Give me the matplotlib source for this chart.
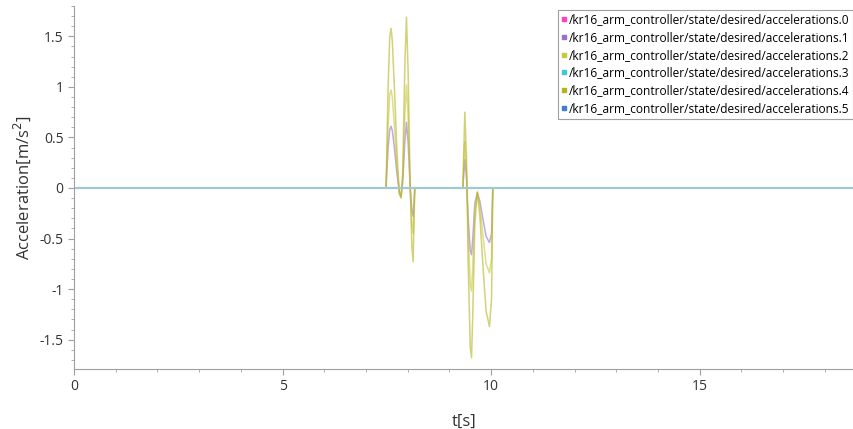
import matplotlib
matplotlib.use("Agg")
import matplotlib.pyplot as plt
from matplotlib.lines import Line2D
from matplotlib.ticker import MultipleLocator

plt.rcParams['font.family'] = ['Open Sans', 'DejaVu Sans']

# time stamps [s]
t = [0.0, 7.48, 7.53, 7.57, 7.60, 7.63, 7.68, 7.74, 7.80, 7.84, 7.88, 7.93, 7.97,
     8.01, 8.06, 8.10, 8.13, 8.17, 9.32, 9.37, 9.41, 9.45, 9.50, 9.53, 9.56, 9.61,
     9.67, 9.73, 9.80, 9.88, 9.96, 10.01, 10.04, 18.7]

acc0 = [0.0] * len(t)
acc1 = [0, 0, 0.40, 0.58, 0.61, 0.57, 0.40, 0.15, -0.04, -0.08, 0.05, 0.45, 0.65,
        0.45, 0.0, -0.22, -0.28, 0, 0, 0.28, 0.10, -0.30, -0.62, -0.66, -0.50, -0.15,
        -0.05, -0.13, -0.30, -0.48, -0.54, -0.45, 0, 0]
acc2 = [0, 0, 0.62, 0.93, 0.97, 0.90, 0.62, 0.22, -0.05, -0.09, 0.10, 0.72, 1.02,
        0.70, 0.0, -0.36, -0.45, 0, 0, 0.46, 0.17, -0.45, -0.96, -1.02, -0.77, -0.22,
        -0.04, -0.18, -0.46, -0.75, -0.84, -0.70, 0, 0]
acc3 = [0.0] * len(t)
acc4 = [0, 0, 1.00, 1.50, 1.58, 1.46, 1.00, 0.38, -0.06, -0.10, 0.15, 1.20, 1.69,
        1.15, 0.0, -0.58, -0.73, 0, 0, 0.75, 0.28, -0.75, -1.58, -1.68, -1.25, -0.35,
        -0.04, -0.28, -0.75, -1.22, -1.37, -1.10, 0, 0]
acc5 = [0.0] * len(t)

series = [acc0, acc1, acc2, acc3, acc4, acc5]
labels = ['/kr16_arm_controller/state/desired/accelerations.%d' % i for i in range(6)]
colors = ['#ff3fbf', '#9a6fd0', '#c8c83a', '#3fc8d8', '#b4b41e', '#3f7fd0']

fig = plt.figure(figsize=(8.54, 4.29), dpi=100)
ax = fig.add_axes([0.0867, 0.140, 0.9133, 0.846])

for y, c in zip(series, colors):
    ax.plot(t, y, color=c, lw=1.1, alpha=0.6)
# the flat line shows up light teal in the reference
ax.axhline(0, color='#a2c9d2', lw=1.6)

ax.set_xlim(0, 18.7)
ax.set_ylim(-1.79, 1.80)
ax.xaxis.set_major_locator(MultipleLocator(5))
ax.xaxis.set_minor_locator(MultipleLocator(1))
ax.yaxis.set_major_locator(MultipleLocator(0.5))
ax.yaxis.set_minor_locator(MultipleLocator(0.1))
ax.xaxis.set_major_formatter(plt.FuncFormatter(lambda v, p: '%g' % v))
ax.yaxis.set_major_formatter(plt.FuncFormatter(lambda v, p: '%g' % round(v, 2)))

for s in ['top', 'right']:
    ax.spines[s].set_visible(False)
for s in ['left', 'bottom']:
    ax.spines[s].set_color('#a0a0a0')
ax.tick_params(which='major', length=4, color='#a0a0a0', labelsize=10, labelcolor='#333333')
ax.tick_params(which='minor', length=2, color='#a0a0a0')

ax.set_xlabel('t[s]', fontsize=12, color='#333333', labelpad=14)
ax.set_ylabel('Acceleration[m/s$^2$]', fontsize=12, color='#333333', labelpad=5)

handles = [Line2D([], [], ls='none', marker='s', ms=3, color=c) for c in colors]
leg = ax.legend(handles, labels, loc='upper right', bbox_to_anchor=(0.999, 0.99),
                fontsize=8.6, handlelength=0.4, handletextpad=0.2, labelspacing=0.4,
                borderpad=0.3, fancybox=False, framealpha=1, borderaxespad=0)
leg.get_frame().set_edgecolor('#a0a0a0')
leg.get_frame().set_linewidth(0.8)

fig.savefig('out.png', dpi=100)
